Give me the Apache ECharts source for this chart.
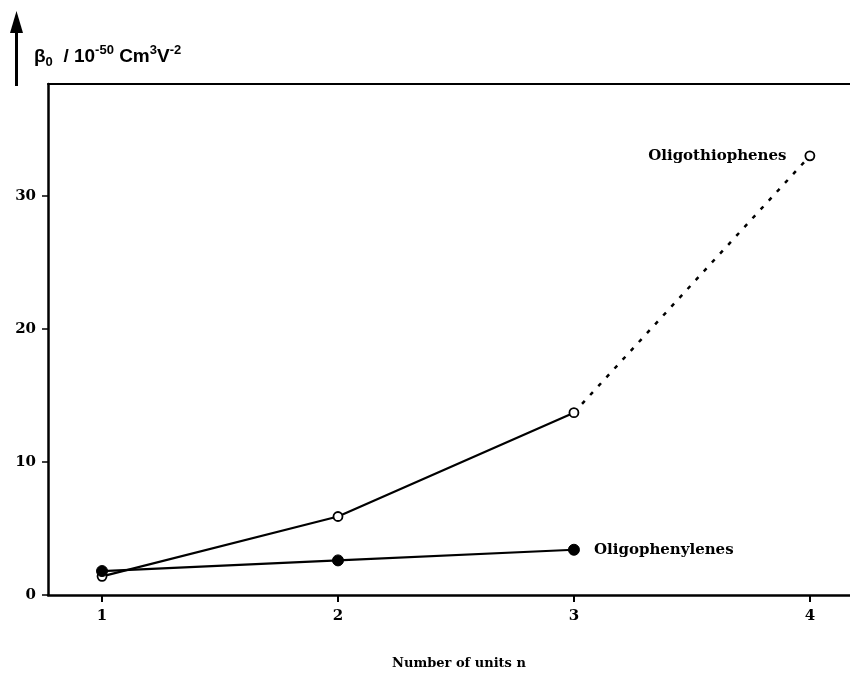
<!DOCTYPE html>
<html><head><meta charset="utf-8">
<script src="https://cdn.jsdelivr.net/npm/echarts@6/dist/echarts.min.js"></script>
<style>html,body{margin:0;padding:0;background:#fff}#c{width:850px;height:675px}</style>
</head><body><div id="c"></div>
<script>
const units = [1, 2, 3, 4];
const thiophenes = [1.4, 5.9, 13.7, 33.0];
const phenylenes = [1.8, 2.6, 3.4];
const xTicks = [1, 2, 3, 4];
const yTicks = [0, 10, 20, 30];
const seriesNames = ['Oligothiophenes', 'Oligophenylenes'];

const chart = echarts.init(document.getElementById('c'));
const serif = 'DejaVu Serif';
const solidThio = units.slice(0, 3).map((u, i) => [u, thiophenes[i]]);
const dashThio = units.slice(2, 4).map((u, i) => [u, thiophenes[i + 2]]);
const phen = phenylenes.map((v, i) => [units[i], v]);

chart.setOption({
  animation: false,
  backgroundColor: '#fff',
  grid: { left: 48, right: 0, top: 84, bottom: 78 },
  xAxis: [{
    type: 'value', min: 0.771, max: 4.17, position: 'bottom',
    axisLine: { lineStyle: { color: '#000', width: 2.5 } },
    axisTick: { show: true, length: 7, lineStyle: { color: '#000', width: 2 }, customValues: xTicks },
    axisLabel: { customValues: xTicks, color: '#000', fontFamily: serif, fontWeight: 'bold', fontSize: 15, margin: 14 },
    splitLine: { show: false },
    name: 'Number of units n', nameLocation: 'middle', nameGap: 62,
    nameTextStyle: { color: '#000', fontFamily: serif, fontWeight: 'bold', fontSize: 13, padding: [0, 0, 0, 20] }
  }, {
    type: 'value', min: 0.771, max: 4.17, position: 'top',
    axisLine: { show: true, onZero: false, lineStyle: { color: '#000', width: 2 } },
    axisTick: { show: false }, axisLabel: { show: false }, splitLine: { show: false }
  }],
  yAxis: {
    type: 'value', min: 0, max: 38.4,
    axisLine: { show: true, lineStyle: { color: '#000', width: 2.5 } },
    axisTick: { show: true, length: 6, lineStyle: { color: '#000', width: 1.5 }, customValues: yTicks },
    axisLabel: { customValues: yTicks, color: '#000', fontFamily: serif, fontWeight: 'bold', fontSize: 15, margin: 12 },
    splitLine: { show: false }
  },
  graphic: [
    { type: 'line', shape: { x1: 16.5, y1: 86, x2: 16.5, y2: 28 }, style: { stroke: '#000', lineWidth: 3 } },
    { type: 'polygon', shape: { points: [[16.5, 11], [10, 33], [23, 33]] }, style: { fill: '#000' } },
    { type: 'text', left: 34, top: 44, style: {
      text: '{b|β}{s|0}{b|  / 10}{p|-50}{b| Cm}{p|3}{b|V}{p|-2}',
      rich: {
        b: { fontFamily: 'Liberation Sans', fontSize: 19, fill: '#000', fontWeight: 'bold', verticalAlign: 'bottom', padding: [0, 0, 3, 0] },
        s: { fontFamily: 'Liberation Sans', fontSize: 13, fill: '#000', fontWeight: 'bold', verticalAlign: 'bottom', padding: [0, 0, 0, 0] },
        p: { fontFamily: 'Liberation Sans', fontSize: 13, fill: '#000', fontWeight: 'bold', verticalAlign: 'bottom', padding: [0, 0, 12, 0] }
      }
    } }
  ],
  series: [{
    name: seriesNames[0], type: 'line', data: solidThio, z: 2,
    symbol: 'circle', symbolSize: 9,
    itemStyle: { color: '#fff', borderColor: '#000', borderWidth: 1.8 },
    lineStyle: { color: '#000', width: 2.2 }
  }, {
    name: seriesNames[0], type: 'line', z: 2,
    data: dashThio.map((p, i) => i === 1 ? {
      value: p,
      label: { show: true, formatter: seriesNames[0], position: 'left', distance: 18,
        color: '#000', fontFamily: serif, fontWeight: 'bold', fontSize: 15 }
    } : { value: p, symbol: 'none' }),
    symbol: 'circle', symbolSize: 9,
    itemStyle: { color: '#fff', borderColor: '#000', borderWidth: 1.8 },
    lineStyle: { color: '#000', width: 2.5, type: [4, 8] }
  }, {
    name: seriesNames[1], type: 'line', z: 3,
    data: phen.map((p, i) => i === phen.length - 1 ? {
      value: p,
      label: { show: true, formatter: seriesNames[1], position: 'right', distance: 14,
        color: '#000', fontFamily: serif, fontWeight: 'bold', fontSize: 15 }
    } : p),
    symbol: 'circle', symbolSize: 11,
    itemStyle: { color: '#000', borderColor: '#000' },
    lineStyle: { color: '#000', width: 2.2 }
  }]
});
</script></body></html>
